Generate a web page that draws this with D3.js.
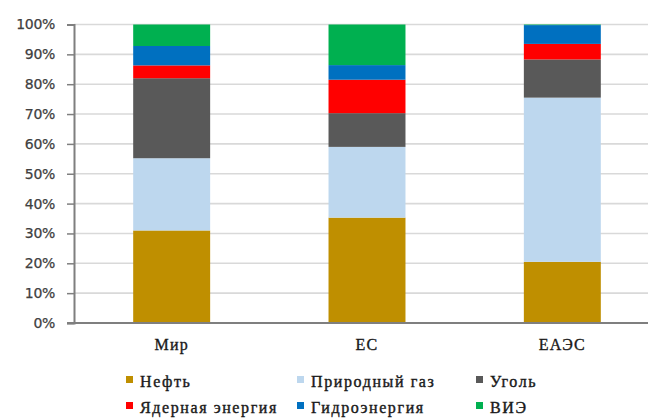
<!DOCTYPE html>
<html>
<head>
<meta charset="utf-8">
<script src="https://cdn.jsdelivr.net/npm/d3@7"></script>
<style>
  html, body { margin: 0; padding: 0; background: #fff; }
  svg { display: block; }
</style>
</head>
<body>
<svg id="chart" width="648" height="420"></svg>
<script>
// Energy mix, share of primary energy consumption (%)
const regions = ["Мир", "ЕС", "ЕАЭС"];
const sources = ["Нефть", "Природный газ", "Уголь", "Ядерная энергия", "Гидроэнергия", "ВИЭ"];
const oil        = [31.0, 35.3, 20.5];
const gas        = [24.2, 23.7, 55.0];
const coal       = [26.8, 11.3, 12.8];
const nuclear    = [4.3, 11.2, 5.2];
const hydro      = [6.5, 4.9, 6.3];
const renewables = [7.2, 13.6, 0.2];
const yTicks = [0, 10, 20, 30, 40, 50, 60, 70, 80, 90, 100];
const colors = ["#BF8F00", "#BDD7EE", "#595959", "#FF0000", "#0070C0", "#00B050"];

const seriesValues = [oil, gas, coal, nuclear, hydro, renewables];
const rows = regions.map((r, i) => {
  const row = { region: r };
  sources.forEach((s, k) => { row[s] = seriesValues[k][i]; });
  return row;
});

const svg = d3.select("#chart");
const plot = { left: 74, right: 660, top: 24.5, bottom: 323 };

const x = d3.scaleBand()
  .domain(regions)
  .range([plot.left, plot.right])
  .paddingInner(0.606)
  .paddingOuter(0.303);

const y = d3.scaleLinear()
  .domain([0, 100])
  .range([plot.bottom, plot.top]);

const color = d3.scaleOrdinal().domain(sources).range(colors);

// horizontal gridlines
svg.append("g")
  .selectAll("line")
  .data(yTicks.filter(t => t > 0))
  .join("line")
  .attr("x1", plot.left)
  .attr("x2", plot.right)
  .attr("y1", d => y(d))
  .attr("y2", d => y(d))
  .attr("stroke", "#d9d9d9")
  .attr("stroke-width", 1.6);

// stacked bars
const stacked = d3.stack().keys(sources)(rows);
svg.append("g")
  .selectAll("g")
  .data(stacked)
  .join("g")
  .attr("fill", d => color(d.key))
  .selectAll("rect")
  .data(d => d)
  .join("rect")
  .attr("x", d => x(d.data.region))
  .attr("width", x.bandwidth())
  .attr("y", d => y(d[1]))
  .attr("height", d => y(d[0]) - y(d[1]));

// y axis
const yAxis = svg.append("g")
  .attr("transform", `translate(${plot.left},0)`)
  .call(d3.axisLeft(y).tickValues(yTicks).tickFormat(d => d + "%").tickSizeOuter(0).tickSize(7).tickPadding(12));
yAxis.select(".domain").attr("stroke", "#7f7f7f").attr("stroke-width", 2);
yAxis.selectAll(".tick line").attr("stroke", "#7f7f7f").attr("stroke-width", 1.5);
yAxis.selectAll(".tick text")
  .attr("fill", "#404040")
  .attr("stroke", "#404040")
  .attr("stroke-width", 0.25)
  .style("font-family", "'DejaVu Sans', sans-serif")
  .style("font-size", "14px")
  .style("letter-spacing", "-0.3px");

// x axis
const xAxis = svg.append("g")
  .attr("transform", `translate(0,${plot.bottom})`)
  .call(d3.axisBottom(x).tickSize(0).tickSizeOuter(0).tickPadding(16));
xAxis.select(".domain").attr("stroke", "#7f7f7f").attr("stroke-width", 2)
  .attr("d", `M${plot.left - 7},0H${plot.right}`);
xAxis.selectAll(".tick text")
  .attr("fill", "#1a1a1a")
  .attr("stroke", "#1a1a1a")
  .attr("stroke-width", 0.35)
  .style("font-family", "'Liberation Serif', 'Times New Roman', serif")
  .style("font-size", "16px")
  .style("letter-spacing", "1.2px");

// legend
const legendX = [126, 297, 476];
const legendY = [381, 407];
const legend = svg.append("g")
  .selectAll("g")
  .data(sources)
  .join("g")
  .attr("transform", (d, i) => `translate(${legendX[i % 3]},${legendY[Math.floor(i / 3)]})`);
legend.append("rect")
  .attr("x", 0)
  .attr("y", -5)
  .attr("width", 7)
  .attr("height", 7)
  .attr("fill", d => color(d));
legend.append("text")
  .attr("x", 14)
  .attr("y", 0)
  .attr("dy", "0.35em")
  .attr("fill", "#1a1a1a")
  .attr("stroke", "#1a1a1a")
  .attr("stroke-width", 0.4)
  .style("font-family", "'Liberation Serif', 'Times New Roman', serif")
  .style("font-size", "16px")
  .style("letter-spacing", "1.6px")
  .text(d => d);
</script>
</body>
</html>
